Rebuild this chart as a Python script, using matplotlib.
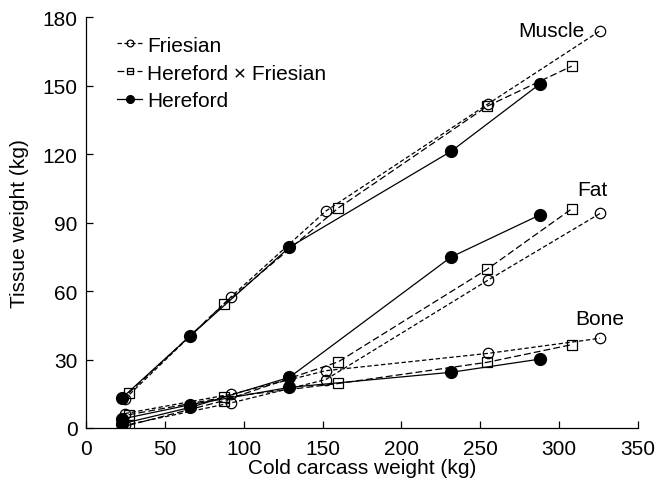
import matplotlib
matplotlib.use("Agg")
import matplotlib.pyplot as plt

plt.rcParams["font.family"] = ["Liberation Sans", "DejaVu Sans"]

# carcass weights (kg) per breed
x_fr = [24.5, 92, 152, 255, 326]
x_hf = [27, 87.5, 160, 254.5, 308]
x_he = [22.5, 66, 129, 231.5, 288]

# tissue weights (kg)
muscle_fr = [12.7, 57.5, 95, 142, 174]
muscle_hf = [15.3, 54.3, 96.4, 141, 158.5]
muscle_he = [13, 40.3, 79.2, 121.2, 150.8]

fat_fr = [1.2, 11, 21.2, 64.8, 94]
fat_hf = [1.2, 12, 29, 69.6, 96]
fat_he = [1.8, 9, 22.2, 74.9, 93.4]

bone_fr = [6.3, 14.8, 25.1, 32.7, 39.3]
bone_hf = [5.8, 13.4, 19.5, 28.8, 36.5]
bone_he = [3.9, 10.2, 17.8, 24.4, 30.2]

FS = 15

fig = plt.figure(figsize=(6.57, 4.89), dpi=100)
ax = fig.add_axes([0.131, 0.1227, 0.84, 0.8403])

fr_style = dict(color="black", lw=0.9, ls=(0, (3.5, 2)), marker="o", ms=7.5,
                mfc="none", mec="black", mew=0.9)
hf_style = dict(color="black", lw=0.9, ls=(0, (5.5, 2.5)), marker="s", ms=7.5,
                mfc="none", mec="black", mew=0.9)
he_style = dict(color="black", lw=0.9, ls="-", marker="o", ms=8.5,
                mfc="black", mec="black")

for fr, hf, he, first in [(muscle_fr, muscle_hf, muscle_he, True),
                          (fat_fr, fat_hf, fat_he, False),
                          (bone_fr, bone_hf, bone_he, False)]:
    ax.plot(x_fr, fr, label="Friesian" if first else None, **fr_style)
    ax.plot(x_hf, hf, label="Hereford \u00d7 Friesian" if first else None, **hf_style)
    ax.plot(x_he, he, label="Hereford" if first else None, **he_style)

ax.text(316, 174, "Muscle", fontsize=FS, ha="right", va="center")
ax.text(321, 104.5, "Fat", fontsize=FS, ha="center", va="center")
ax.text(326, 48, "Bone", fontsize=FS, ha="center", va="center")

ax.set_xlim(0, 350)
ax.set_ylim(0, 180)
ax.set_xticks(range(0, 351, 50))
ax.set_yticks(range(0, 181, 30))
ax.tick_params(direction="in", labelsize=FS, length=5, width=0.9)
ax.tick_params(axis="x", pad=8)
ax.tick_params(axis="y", pad=6)
ax.spines["top"].set_visible(False)
ax.spines["right"].set_visible(False)
for s in ["left", "bottom"]:
    ax.spines[s].set_linewidth(0.9)
ax.set_xlabel("Cold carcass weight (kg)", fontsize=FS, labelpad=0)
ax.set_ylabel("Tissue weight (kg)", fontsize=FS, labelpad=10)

ax.legend(loc="upper left", bbox_to_anchor=(0.03, 0.99), frameon=False,
          fontsize=FS, handlelength=1.2, handletextpad=0.25,
          labelspacing=0.42, markerscale=0.65, borderaxespad=0.3)

fig.savefig("out.png", dpi=100)
